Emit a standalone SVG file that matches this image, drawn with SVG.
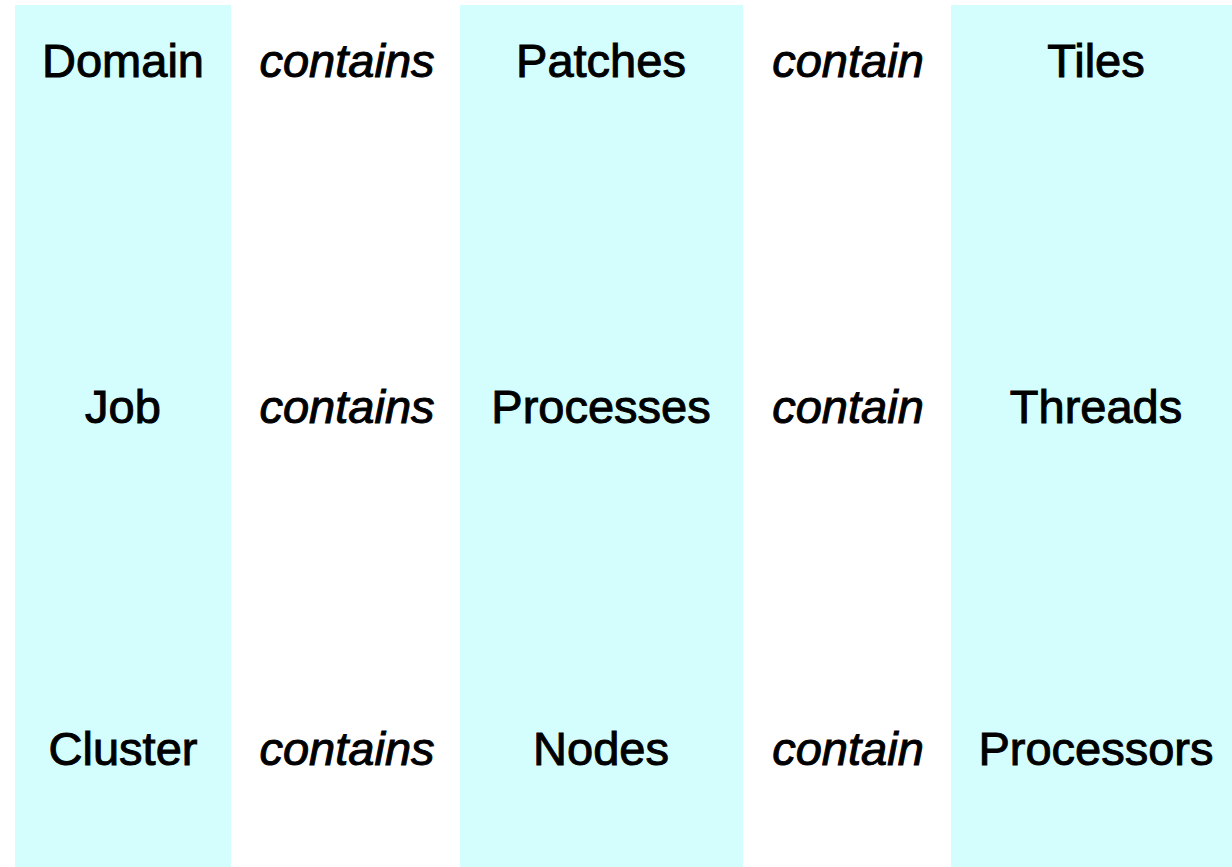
<svg xmlns="http://www.w3.org/2000/svg" width="1232" height="867" viewBox="0 0 1232 867">
  <style>
    .band { fill: #d4fefe; }
    .noun, .verb { font-family: "Liberation Sans", Arial, sans-serif; font-size: 47px; fill: #000; stroke: #000; stroke-width: 1px; text-anchor: middle; }
    .verb { font-style: italic; }
  </style>
  <rect x="0" y="0" width="1232" height="867" fill="#ffffff"/>

  <!-- shaded columns -->
  <g id="columns">
    <rect class="band" x="15" y="5" width="216" height="862"/>
    <rect class="band" x="460" y="5" width="283" height="862"/>
    <rect class="band" x="951" y="5" width="281" height="862"/>
  </g>

  <!-- row: data hierarchy -->
  <g id="row-domain">
    <text class="noun" x="123" y="77">Domain</text>
    <text class="verb" x="347" y="77">contains</text>
    <text class="noun" x="601" y="77">Patches</text>
    <text class="verb" x="848" y="77">contain</text>
    <text class="noun" x="1096" y="77">Tiles</text>
  </g>

  <!-- row: software hierarchy -->
  <g id="row-job">
    <text class="noun" x="123" y="423">Job</text>
    <text class="verb" x="347" y="423">contains</text>
    <text class="noun" x="601" y="423">Processes</text>
    <text class="verb" x="848" y="423">contain</text>
    <text class="noun" x="1096" y="423">Threads</text>
  </g>

  <!-- row: hardware hierarchy -->
  <g id="row-cluster">
    <text class="noun" x="123" y="765">Cluster</text>
    <text class="verb" x="347" y="765">contains</text>
    <text class="noun" x="601" y="765">Nodes</text>
    <text class="verb" x="848" y="765">contain</text>
    <text class="noun" x="1096" y="765">Processors</text>
  </g>
</svg>
